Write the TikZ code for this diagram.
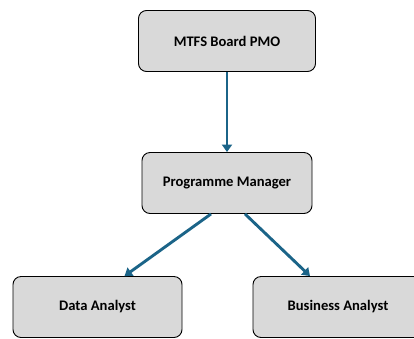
\documentclass[tikz,border=0pt]{standalone}
\usepackage{fontspec}
\setmainfont{Carlito}
\usepackage{tikz}
\usetikzlibrary{arrows.meta}
\definecolor{boxgrey}{HTML}{D9D9D9}
\definecolor{linkblue}{HTML}{1B6488}
\tikzset{
  rolebox/.style={draw=black, line width=0.9pt, fill=boxgrey, rounded corners=8pt,
    minimum height=61pt, font=\fontsize{14.6}{16}\selectfont\bfseries},
  link/.style={draw=linkblue, line width=2.9pt, -{Triangle[width=10pt,length=7.5pt]}}
}
\begin{document}
\begin{tikzpicture}
          \useasboundingbox (0pt,0pt) rectangle (414pt,-338pt);
          \node [rolebox, minimum width=177pt] (pmo) at (227pt,-41pt) {MTFS Board PMO};
          \node [rolebox, minimum width=170pt] (pm) at (227pt,-183pt) {Programme Manager};
          \node [rolebox, minimum width=169pt] (da) at (97.5pt,-307pt) {Data Analyst};
          \node [rolebox, minimum width=170pt] (ba) at (338pt,-307pt) {Business Analyst};
          \draw [link] (pmo.south) -- (pm.north);
          \draw [link] ([xshift=-16pt]pm.south) -- ([xshift=27pt]da.north);
          \draw [link] ([xshift=18pt]pm.south) -- ([xshift=-28pt]ba.north);
        \end{tikzpicture}
\end{document}
